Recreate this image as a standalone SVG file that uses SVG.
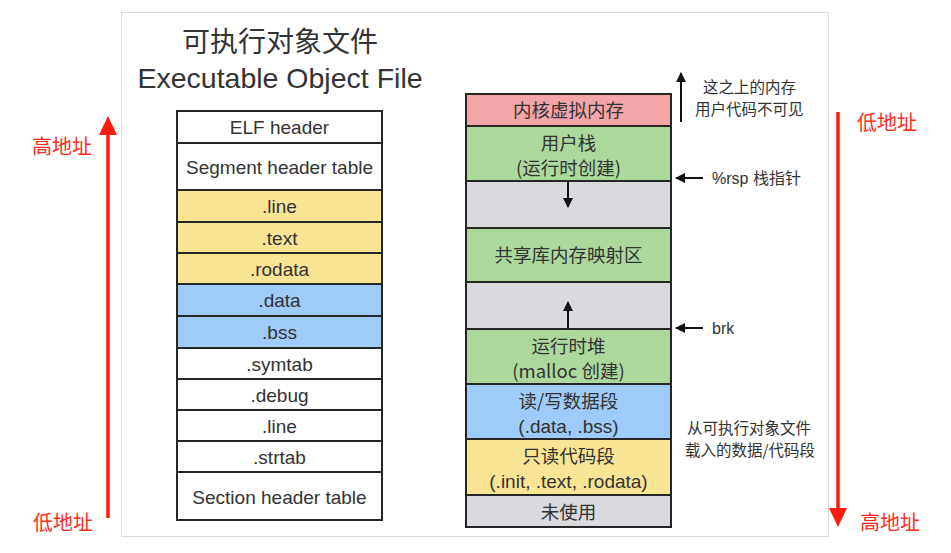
<svg xmlns="http://www.w3.org/2000/svg" width="951" height="553" viewBox="0 0 951 553">
<defs>
<style>
.frame{fill:#fff;stroke:#dcdcdc;stroke-width:1}
.cell{stroke:#262626;stroke-width:2}
.w{fill:#ffffff}.y{fill:#fae595}.b{fill:#9ecbf7}.g{fill:#abd99b}.gr{fill:#d9d9de}.p{fill:#f4a5a8}
.t{font-family:"Liberation Sans","Noto Sans CJK SC",sans-serif;font-size:19px;fill:#333;text-anchor:middle}
.c{font-family:"Noto Sans CJK SC","Liberation Sans",sans-serif;font-size:18.5px;fill:#333;text-anchor:middle}
.n{font-family:"Liberation Sans","Noto Sans CJK SC",sans-serif;font-size:16px;fill:#333}
.nc{font-family:"Noto Sans CJK SC",sans-serif;font-size:15.5px;fill:#333}
.red{font-family:"Noto Sans CJK SC",sans-serif;font-size:20px;fill:#ff2a1a}
.arr{stroke:#111;stroke-width:2;fill:none}
</style>
<marker id="ah" viewBox="0 0 10 10" refX="9" refY="5" markerWidth="5" markerHeight="5" orient="auto"><path d="M0,0 L10,5 L0,10 z" fill="#111"/></marker>
</defs>
<rect class="frame" x="121.5" y="12.5" width="707" height="524"/>
<text x="280" y="52" style="font-family:'Noto Sans CJK SC',sans-serif;font-size:28px;fill:#333;text-anchor:middle">可执行对象文件</text>
<text x="280" y="88" style="font-family:'Liberation Sans',sans-serif;font-size:28.5px;fill:#333;text-anchor:middle">Executable Object File</text>
<g id="left-table">
<g id="elf-header"><rect class="cell w" x="177" y="111" width="205" height="32"/><text class="t" x="279.5" y="134">ELF header</text></g>
<g id="segment-header-table"><rect class="cell w" x="177" y="143" width="205" height="47"/><text class="t" x="279.5" y="174">Segment header table</text></g>
<g id="line1"><rect class="cell y" x="177" y="190" width="205" height="32"/><text class="t" x="279.5" y="213">.line</text></g>
<g id="text"><rect class="cell y" x="177" y="222" width="205" height="31"/><text class="t" x="279.5" y="245">.text</text></g>
<g id="rodata"><rect class="cell y" x="177" y="253" width="205" height="31"/><text class="t" x="279.5" y="276">.rodata</text></g>
<g id="data"><rect class="cell b" x="177" y="284" width="205" height="32"/><text class="t" x="279.5" y="307">.data</text></g>
<g id="bss"><rect class="cell b" x="177" y="316" width="205" height="32"/><text class="t" x="279.5" y="339">.bss</text></g>
<g id="symtab"><rect class="cell w" x="177" y="348" width="205" height="31"/><text class="t" x="279.5" y="371">.symtab</text></g>
<g id="debug"><rect class="cell w" x="177" y="379" width="205" height="31"/><text class="t" x="279.5" y="402">.debug</text></g>
<g id="line2"><rect class="cell w" x="177" y="410" width="205" height="31"/><text class="t" x="279.5" y="433">.line</text></g>
<g id="strtab"><rect class="cell w" x="177" y="441" width="205" height="31"/><text class="t" x="279.5" y="464">.strtab</text></g>
<g id="section-header-table"><rect class="cell w" x="177" y="472" width="205" height="48"/><text class="t" x="279.5" y="504">Section header table</text></g>
</g>
<g id="right-table">
<g id="kernel"><rect class="cell p" x="466" y="94" width="205" height="32"/><text class="c" x="568.5" y="117">内核虚拟内存</text></g>
<g id="user-stack"><rect class="cell g" x="466" y="126" width="205" height="55"/><text class="c" x="568.5" y="150">用户栈</text><text class="c" x="568.5" y="175">(运行时创建)</text></g>
<g id="gap1"><rect class="cell gr" x="466" y="181" width="205" height="47"/></g>
<g id="shared-lib"><rect class="cell g" x="466" y="228" width="205" height="54"/><text class="c" x="568.5" y="262">共享库内存映射区</text></g>
<g id="gap2"><rect class="cell gr" x="466" y="282" width="205" height="47"/></g>
<g id="heap"><rect class="cell g" x="466" y="329" width="205" height="55"/><text class="c" x="568.5" y="353">运行时堆</text><text class="c" x="568.5" y="378">(malloc 创建)</text></g>
<g id="rw-data"><rect class="cell b" x="466" y="384" width="205" height="55"/><text class="c" x="568.5" y="408">读/写数据段</text><text class="t" x="568.5" y="433">(.data, .bss)</text></g>
<g id="ro-code"><rect class="cell y" x="466" y="439" width="205" height="56"/><text class="c" x="568.5" y="463">只读代码段</text><text class="t" x="568.5" y="488">(.init, .text, .rodata)</text></g>
<g id="unused"><rect class="cell gr" x="466" y="495" width="205" height="32"/><text class="c" x="568.5" y="519">未使用</text></g>
</g>
<g id="connectors">
<line class="arr" x1="568" y1="181" x2="568" y2="207" marker-end="url(#ah)"/>
<line class="arr" x1="568" y1="329" x2="568" y2="302" marker-end="url(#ah)"/>
<line class="arr" x1="681" y1="122" x2="681" y2="73" marker-end="url(#ah)"/>
<line class="arr" x1="703" y1="178" x2="676" y2="178" marker-end="url(#ah)"/>
<line class="arr" x1="703" y1="328" x2="676" y2="328" marker-end="url(#ah)"/>
<line x1="108" y1="518" x2="108" y2="130" stroke="#ff1a10" stroke-width="3.5"/>
<path d="M108,116 L117,135 L99,135 z" fill="#ff1a10"/>
<line x1="838" y1="112" x2="838" y2="512" stroke="#ff1a10" stroke-width="3.5"/>
<path d="M838,527 L847,508 L829,508 z" fill="#ff1a10"/>
</g>
<g id="annotations">
<text class="nc" x="703" y="93">这之上的内存</text>
<text class="nc" x="695" y="115">用户代码不可见</text>
<text class="n" x="712" y="184">%rsp 栈指针</text>
<text class="n" x="712" y="334">brk</text>
<text class="nc" x="687" y="434">从可执行对象文件</text>
<text class="nc" x="685" y="456">载入的数据/代码段</text>
<text class="red" x="32" y="154">高地址</text>
<text class="red" x="33" y="530">低地址</text>
<text class="red" x="857" y="130">低地址</text>
<text class="red" x="860" y="530">高地址</text>
</g>
</svg>
